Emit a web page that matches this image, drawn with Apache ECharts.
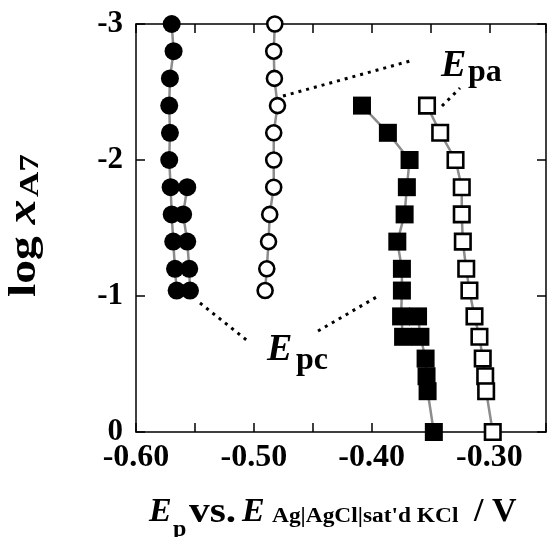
<!DOCTYPE html>
<html>
<head>
<meta charset="utf-8">
<script src="https://cdn.jsdelivr.net/npm/echarts@6/dist/echarts.min.js"></script>
<style>
  html, body { margin: 0; padding: 0; background: #fff; }
  #chart { width: 549px; height: 537px; }
</style>
</head>
<body>
<div id="chart"></div>
<script>
// log x_A7 levels (y), top to bottom
const logX = [-3.0, -2.8, -2.6, -2.4, -2.2, -2.0, -1.8, -1.6, -1.4, -1.2, -1.04, -0.85, -0.70, -0.54, -0.41, -0.30, 0];

// Epc, filled circles (two peaks)
const epcCircleA = [-0.5697, -0.5681, -0.5712, -0.5718, -0.5712, -0.5718, -0.5706, -0.5697, -0.5684, -0.5669, -0.5655];
const epcCircleB = [-0.5565, -0.5600, -0.5565, -0.5548, -0.5542];
// Epa, open circles
const epaCircle = [-0.4822, -0.4831, -0.4825, -0.4799, -0.4831, -0.4831, -0.4831, -0.4865, -0.4875, -0.4890, -0.4904];
// Epc, filled squares (two peaks)
const epcSquareA = [-0.4082, -0.3862, -0.3678, -0.3701, -0.3720, -0.3782, -0.3743, -0.3743, -0.3750, -0.3733];
const epcSquareB = [-0.3606, -0.3586, -0.3542, -0.3534, -0.3525, -0.3472];
// Epa, open squares
const epaSquare = [-0.3530, -0.3418, -0.3288, -0.3235, -0.3235, -0.3226, -0.3197, -0.3170, -0.3127, -0.3085, -0.3057, -0.3036, -0.3028, -0.2972];

const xTickLabels = ['-0.60', '-0.50', '-0.40', '-0.30'];

function pairs(xs, startIdx) {
    return xs.map((v, i) => [v, logX[startIdx + i]]);
}

const serif = '"Liberation Serif", "DejaVu Serif", serif';

function lineSeries(data, symbol, size, filled) {
    return {
        type: 'line',
        data: data,
        symbol: symbol,
        symbolSize: size,
        showAllSymbol: true,
        lineStyle: {color: '#8c8c8c', width: 2.5},
        itemStyle: filled
            ? {color: '#000', borderWidth: 0}
            : {color: '#fff', borderColor: '#000', borderWidth: 2.6},
        emphasis: {disabled: true},
        animation: false
    };
}

function txt(x, y, text, size, style, scaleX) {
    return {
        type: 'text',
        x: x, y: y,
        scaleX: scaleX || 1,
        style: {
            text: text,
            fontFamily: serif,
            fontSize: size,
            fontWeight: 'bold',
            fontStyle: style || 'normal',
            fill: '#000',
            align: 'left',
            verticalAlign: 'middle'
        }
    };
}

function dots(points) {
    return {
        type: 'polyline',
        shape: {points: points},
        style: {stroke: '#000', lineWidth: 3, lineDash: [3, 5], fill: null}
    };
}

const axisCommon = {
    type: 'value',
    axisLine: {show: true, onZero: false, lineStyle: {color: '#000', width: 1.5}},
    axisTick: {show: true, inside: true, length: 9, lineStyle: {color: '#000', width: 1.5}},
    splitLine: {show: false}
};

let myChart = echarts.init(document.getElementById('chart'));
myChart.setOption({
    animation: false,
    grid: {left: 136, right: 2, top: 24, bottom: 105},
    xAxis: [
        Object.assign({}, axisCommon, {
            position: 'bottom',
            min: -0.60, max: -0.252, interval: 0.05,
            axisLabel: {
                margin: 10,
                fontFamily: serif, fontSize: 32, fontWeight: 'bold', color: '#000',
                formatter: function (v) {
                    let s = v.toFixed(2);
                    return xTickLabels.indexOf(s) >= 0 ? s : '';
                }
            }
        }),
        Object.assign({}, axisCommon, {
            position: 'top',
            min: -0.60, max: -0.252, interval: 0.05,
            axisLabel: {show: false}
        })
    ],
    yAxis: [
        Object.assign({}, axisCommon, {
            position: 'left',
            inverse: true,
            min: -3, max: 0, interval: 1,
            axisLabel: {
                margin: 13,
                fontFamily: serif, fontSize: 31, fontWeight: 'bold', color: '#000',
                formatter: function (v) { return v === 0 ? '0' : String(v); }
            }
        }),
        Object.assign({}, axisCommon, {
            position: 'right',
            inverse: true,
            min: -3, max: 0, interval: 1,
            axisLabel: {show: false}
        })
    ],
    series: [
        lineSeries(pairs(epcCircleA, 0), 'circle', 18, true),
        lineSeries(pairs(epcCircleB, 6), 'circle', 18, true),
        lineSeries(pairs(epaCircle, 0), 'circle', 15, false),
        lineSeries(pairs(epcSquareA, 3), 'rect', 18, true),
        lineSeries(pairs(epcSquareB, 11), 'rect', 18, true),
        lineSeries(pairs(epaSquare, 3), 'rect', 15.5, false)
    ],
    graphic: [
        // annotation leader lines
        dots([[283, 96], [410, 61]]),
        dots([[442, 106], [460, 88]]),
        dots([[200, 303], [249, 342]]),
        dots([[318, 331], [380, 295]]),
        // E_pa
        txt(441, 66, 'E', 38, 'italic'),
        txt(468, 73, 'pa', 32),
        // E_pc
        txt(267, 350, 'E', 38, 'italic'),
        txt(296, 361, 'pc', 32),
        // x axis title
        txt(149, 512, 'E', 34, 'italic'),
        txt(173, 530, 'p', 24),
        txt(189, 513, 'vs.', 36, 'normal', 1.15),
        txt(242, 512, 'E', 34, 'italic'),
        txt(272, 517, "Ag|AgCl|sat'd KCl", 20, 'normal', 1.17),
        txt(474, 512, '/ V', 34),
        // y axis title (rotated)
        {
            type: 'group',
            x: 25, y: 297,
            rotation: Math.PI / 2,
            scaleX: 1.25,
            children: [
                txt(0, 0, 'log', 38),
                txt(58, 0, 'x', 40, 'italic'),
                txt(80, 6, 'A7', 28)
            ]
        }
    ]
});
</script>
</body>
</html>
